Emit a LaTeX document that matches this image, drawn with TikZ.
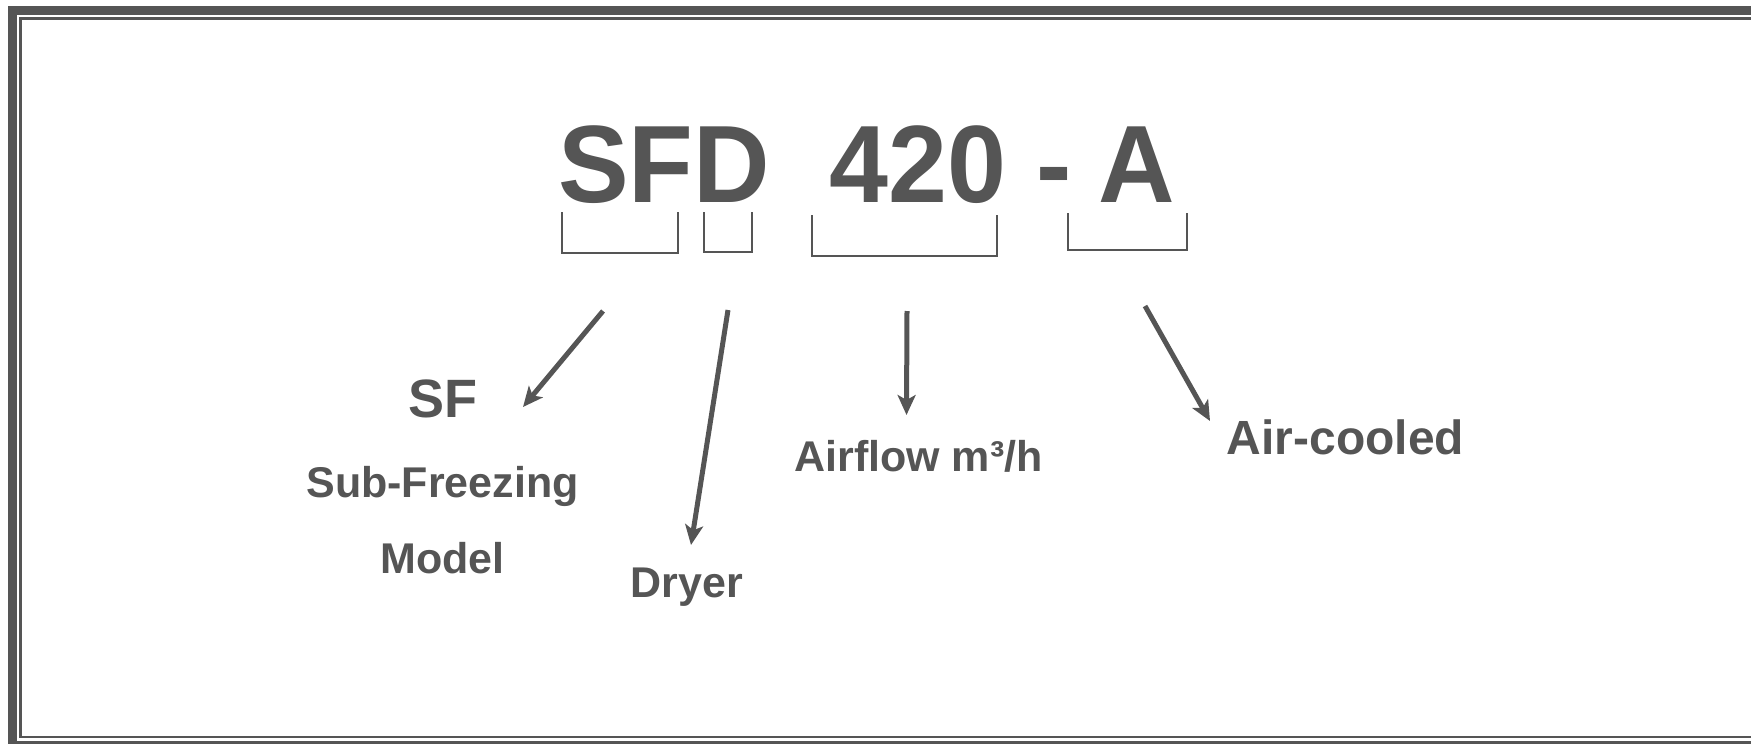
\documentclass[tikz,border=0pt]{standalone}
\usepackage{fontspec}
\setmainfont{Liberation Sans}
\usetikzlibrary{arrows.meta}
\definecolor{ink}{RGB}{85,85,85}
\newcommand{\narrowtxt}[1]{\scalebox{0.963}[1]{#1}}
\tikzset{
  title/.style={inner sep=0pt, anchor=base, text=ink, font=\bfseries\fontsize{110}{110}\selectfont},
  lbl/.style={inner sep=0pt, anchor=base, text=ink, font=\bfseries\fontsize{43}{43}\selectfont},
  brk/.style={draw=ink, line width=2.8pt},
  ptr/.style={draw=ink, line width=5pt, -{Stealth[length=20pt, width=18pt, inset=5pt]}},
}
\begin{document}
\begin{tikzpicture}[x=1pt, y=-1pt]
\useasboundingbox (0,0) rectangle (1751,744);
% frame
\draw[ink, line width=9pt] (12,10.5) rectangle (1770,745.5);
\draw[ink, line width=2.6pt] (20.5,18.7) rectangle (1760,737);
% title
\node[title] (sfd) at (664,202) {\narrowtxt{SFD}};
\node[title] (num) at (918,202) {\narrowtxt{420}};
\node[title] (dash) at (1054.5,202) {\narrowtxt{-}};
\node[title] (a) at (1136.5,202) {\narrowtxt{A}};
% brackets
\draw[brk] (562,212) -- (562,253) -- (678,253) -- (678,212);
\draw[brk] (704,212) -- (704,252) -- (752,252) -- (752,212);
\draw[brk] (812,215) -- (812,256) -- (997,256) -- (997,215);
\draw[brk] (1068,213) -- (1068,250) -- (1187,250) -- (1187,213);
% labels
\node[lbl, font=\bfseries\fontsize{54}{54}\selectfont] (sf) at (443,417) {SF};
\node[lbl] (subf) at (442.5,497) {Sub-Freezing};
\node[lbl] (model) at (442.5,573) {Model};
\node[lbl] (dryer) at (687,597) {Dryer};
\node[lbl] (airflow) at (918.5,471) {Airflow m³/h};
\node[lbl, font=\bfseries\fontsize{48}{48}\selectfont] (aircooled) at (1345.6,454.5) {Air-cooled};
% arrows
\coordinate (s1) at (603,311); \coordinate (e1) at (523,407);
\coordinate (s2) at (728,310); \coordinate (e2) at (691,545);
\coordinate (s3) at (907,311); \coordinate (e3) at (906.5,415);
\coordinate (s4) at (1145,306); \coordinate (e4) at (1210,421);
\draw[ptr] (s1) -- (e1);
\draw[ptr] (s2) -- (e2);
\draw[ptr] (s3) -- (e3);
\draw[ptr] (s4) -- (e4);
\end{tikzpicture}
\end{document}
